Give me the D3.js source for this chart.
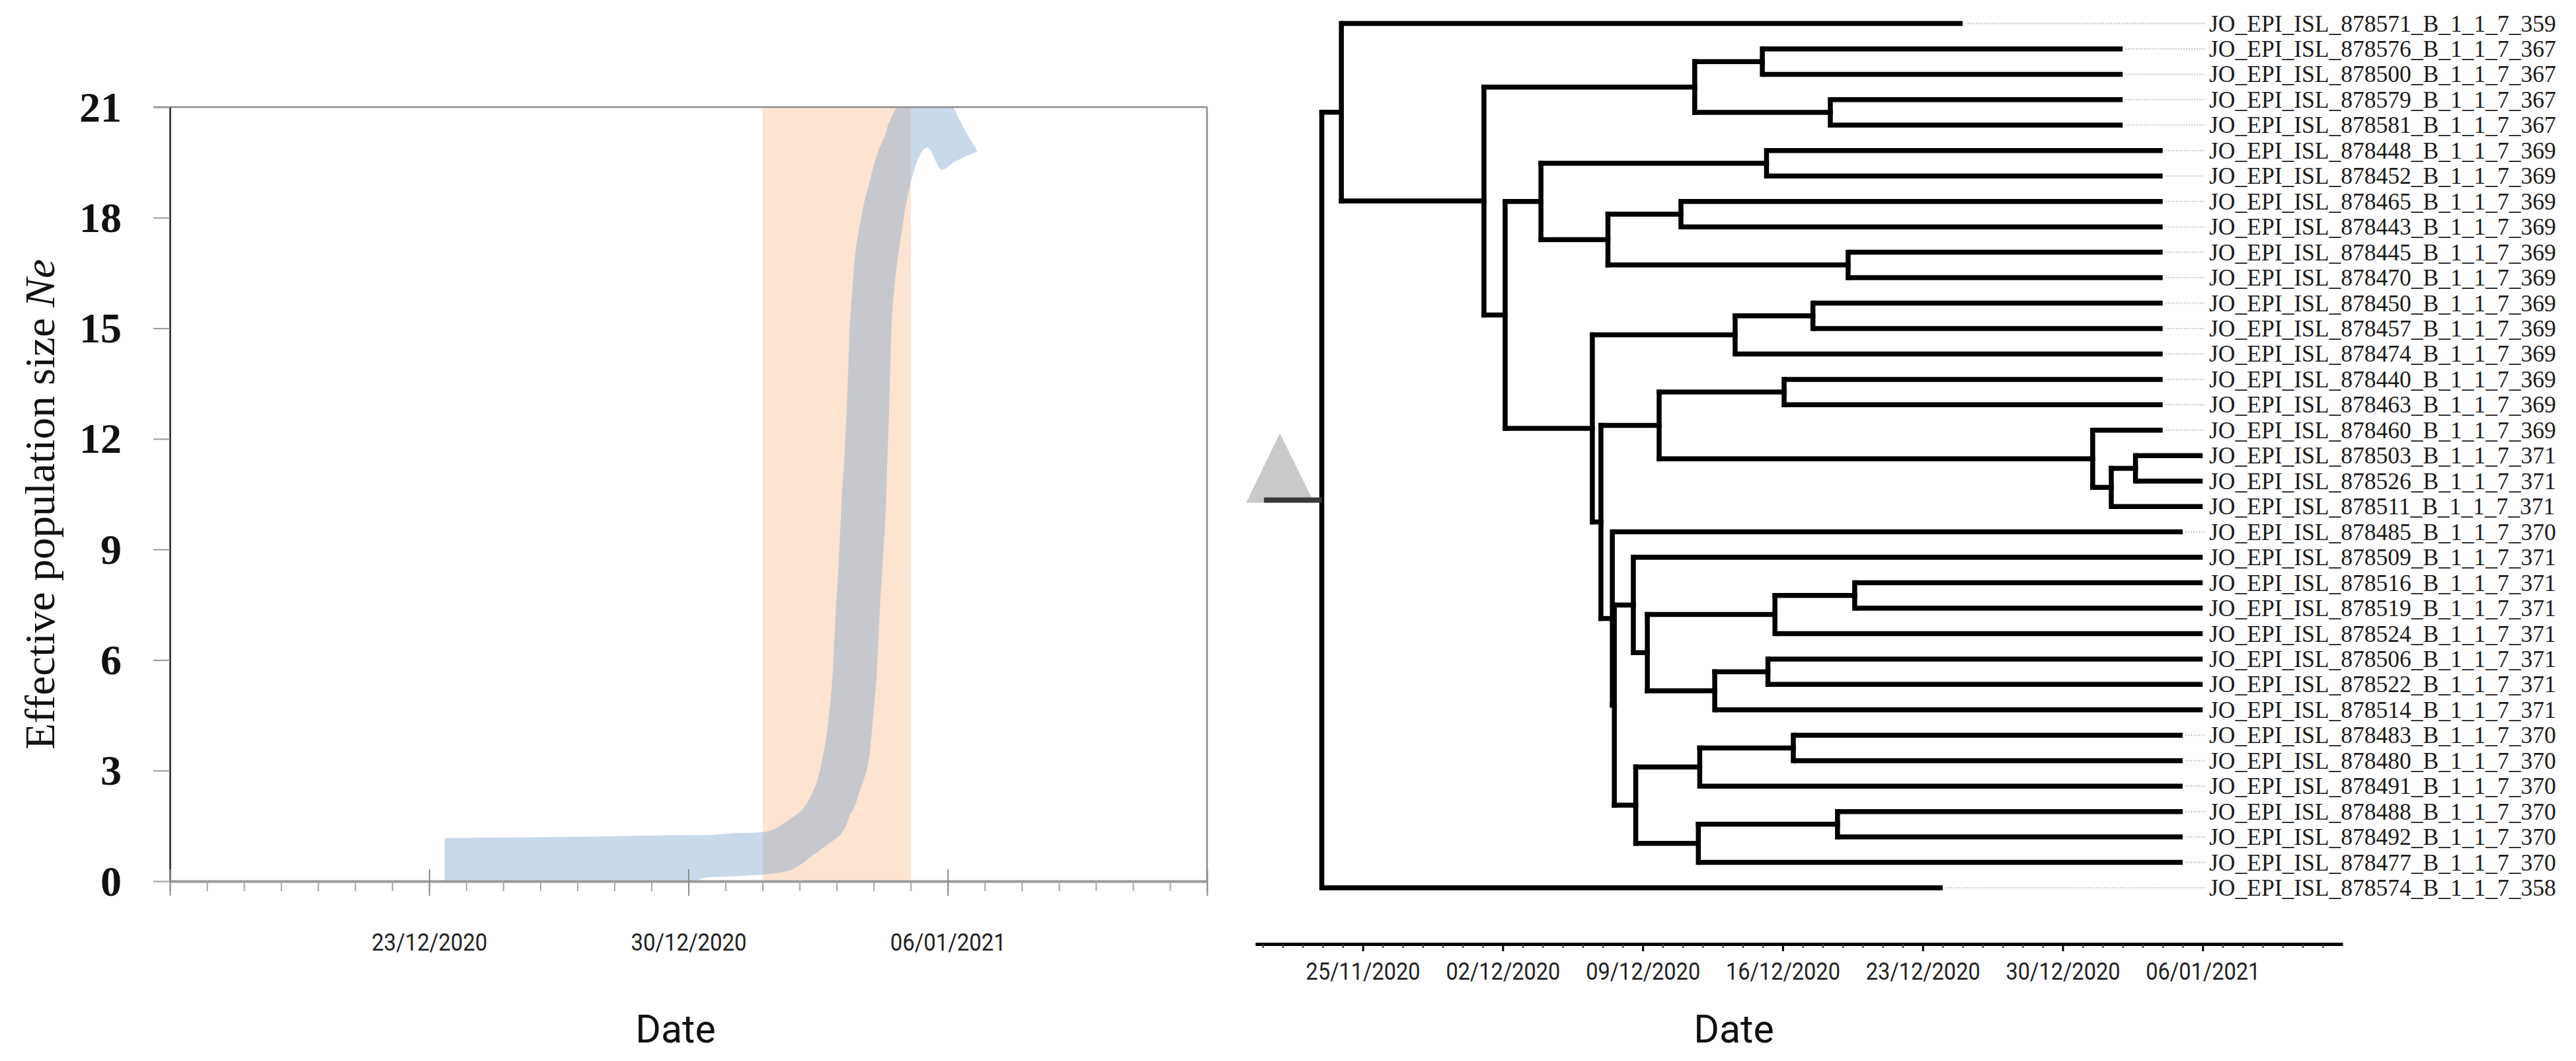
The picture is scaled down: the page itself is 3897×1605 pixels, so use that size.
<!DOCTYPE html>
<html>
<head>
<meta charset="utf-8">
<script src="https://cdn.jsdelivr.net/npm/d3@7"></script>
<style>
  html, body { margin: 0; padding: 0; background: #fff; }
  #chart { width: 3897px; height: 1605px; }
  .serif { font-family: "Liberation Serif", "DejaVu Serif", serif; }
  .sans { font-family: Roboto, "Open Sans", sans-serif; }
</style>
</head>
<body>
<div id="chart"></div>
<script>

/* ---------- LEFT PANEL DATA: skyline band ---------- */
const bandDates = ["2020-12-23T10:05","2020-12-26T19:12","2020-12-30T05:17","2020-12-30T09:36",
    "2020-12-31T04:48","2021-01-01T00:00","2021-01-01T09:36","2021-01-01T18:14","2021-01-02T02:24",
    "2021-01-02T08:24","2021-01-02T12:00","2021-01-02T15:36","2021-01-02T18:29","2021-01-02T21:36",
    "2021-01-02T23:17","2021-01-03T01:26","2021-01-03T03:07","2021-01-03T05:17","2021-01-03T06:58",
    "2021-01-03T08:10","2021-01-03T10:05","2021-01-03T11:46","2021-01-03T14:38","2021-01-03T17:46",
    "2021-01-03T21:36","2021-01-03T23:17","2021-01-04T02:10","2021-01-04T03:50","2021-01-04T06:00",
    "2021-01-04T07:55","2021-01-04T09:07","2021-01-04T10:19","2021-01-04T11:17","2021-01-04T13:41",
    "2021-01-04T15:36","2021-01-04T18:29","2021-01-04T21:07","2021-01-05T00:58","2021-01-05T10:48",
    "2021-01-05T20:10","2021-01-06T03:50","2021-01-06T19:12"];
const bandUpper = [1.17,1.2,1.25,1.25,1.3,1.33,1.45,1.7,1.98,2.4,2.8,3.5,4.3,5.75,7.2,8.7,10.2,11.7,
    13.2,14.7,16.0,16.9,17.7,18.4,19.0,19.3,19.7,19.9,20.1,20.3,20.5,20.6,20.7,20.9,21.0,21.1,21.3,
    21.5,22.0,21.8,21.0,19.8];
const bandLower = [0,0,0.02,0.09,0.13,0.18,0.22,0.3,0.5,0.7,0.8,0.92,1.0,1.1,1.15,1.22,1.3,1.45,
    1.6,1.75,1.9,2.04,2.4,2.78,3.52,4.27,5.75,7.24,8.73,10.2,11.7,13.2,14.7,16.2,16.9,17.7,18.4,
    19.1,19.9,19.3,19.5,19.8];
const highlightPeriod = ["2021-01-01", "2021-01-05"];
const neTicks = [0, 3, 6, 9, 12, 15, 18, 21];
const leftDomain = ["2020-12-16", "2021-01-13"];
const leftMajor = ["2020-12-16", "2020-12-23", "2020-12-30", "2021-01-06", "2021-01-13"];
const leftLabelled = ["2020-12-23", "2020-12-30", "2021-01-06"];

/* ---------- RIGHT PANEL DATA: time tree ---------- */
const tipLabels = ["JO_EPI_ISL_878571_B_1_1_7_359","JO_EPI_ISL_878576_B_1_1_7_367","JO_EPI_ISL_878500_B_1_1_7_367",
    "JO_EPI_ISL_878579_B_1_1_7_367","JO_EPI_ISL_878581_B_1_1_7_367","JO_EPI_ISL_878448_B_1_1_7_369",
    "JO_EPI_ISL_878452_B_1_1_7_369","JO_EPI_ISL_878465_B_1_1_7_369","JO_EPI_ISL_878443_B_1_1_7_369",
    "JO_EPI_ISL_878445_B_1_1_7_369","JO_EPI_ISL_878470_B_1_1_7_369","JO_EPI_ISL_878450_B_1_1_7_369",
    "JO_EPI_ISL_878457_B_1_1_7_369","JO_EPI_ISL_878474_B_1_1_7_369","JO_EPI_ISL_878440_B_1_1_7_369",
    "JO_EPI_ISL_878463_B_1_1_7_369","JO_EPI_ISL_878460_B_1_1_7_369","JO_EPI_ISL_878503_B_1_1_7_371",
    "JO_EPI_ISL_878526_B_1_1_7_371","JO_EPI_ISL_878511_B_1_1_7_371","JO_EPI_ISL_878485_B_1_1_7_370",
    "JO_EPI_ISL_878509_B_1_1_7_371","JO_EPI_ISL_878516_B_1_1_7_371","JO_EPI_ISL_878519_B_1_1_7_371",
    "JO_EPI_ISL_878524_B_1_1_7_371","JO_EPI_ISL_878506_B_1_1_7_371","JO_EPI_ISL_878522_B_1_1_7_371",
    "JO_EPI_ISL_878514_B_1_1_7_371","JO_EPI_ISL_878483_B_1_1_7_370","JO_EPI_ISL_878480_B_1_1_7_370",
    "JO_EPI_ISL_878491_B_1_1_7_370","JO_EPI_ISL_878488_B_1_1_7_370","JO_EPI_ISL_878492_B_1_1_7_370",
    "JO_EPI_ISL_878477_B_1_1_7_370","JO_EPI_ISL_878574_B_1_1_7_358"];
const tipParents = ["A","E","E","F","F","I","I","K","K","L","L","O","O","M","R","R","S","U","U","T",
    "Q","V","Y1","Y1","Y","Z1","Z1","Z","W1a","W1a","W1","W2a","W2a","W2","root"];

// internal nodes; day numbers use the same scale as the tip suffix (371 = 06/01/2021)
const nodeIds     = ["root","A","B","C","E","F","D","G","I","J","K","L","H","M","O","N","P",
    "R","S","T","U","Q","Q2","V","X","Y","Y1","Z","Z1","W","W1","W1a","W2","W2a"];
const nodeParents = ["","root","A","B","C","C","B","D","G","G","J","J","D","H","M","H","N",
    "P","P","S","T","N","Q","Q2","V","X","Y","X","Z","Q2","W","W1","W","W2"];
const nodeDays    = [326.95,327.93,335.06,345.6,348.98,352.38,336.12,337.91,349.19,341.26,344.91,
    353.27,340.48,347.62,351.51,340.91,343.82,350.07,365.5,366.43,367.64,341.48,341.58,342.53,
    343.23,349.61,353.6,346.6,349.26,342.65,345.85,350.53,345.78,352.74];
const rootStemDay = 324.06;
const treeDomain = ["2020-11-19T15:00", "2021-01-13T00:00"];
const treeMajor = ["2020-11-25","2020-12-02","2020-12-09","2020-12-16","2020-12-23","2020-12-30","2021-01-06"];

/* ---------- SVG ---------- */
const width = 3897, height = 1605;
const svg = d3.select("#chart").append("svg")
    .attr("width", width).attr("height", height);

const parseDay = d3.utcParse("%Y-%m-%d");
const parseTime = d3.utcParse("%Y-%m-%dT%H:%M");
const fmt = d3.utcFormat("%d/%m/%Y");

/* ====================== LEFT PANEL ====================== */
const left = {x0: 257, x1: 1826, yTop: 162, yBottom: 1333};

const xScale = d3.scaleUtc()
    .domain(leftDomain.map(parseDay))
    .range([left.x0, left.x1]);

const yScale = d3.scaleLinear()
    .domain([0, 21])
    .range([left.yBottom, left.yTop]);

svg.append("defs").append("clipPath").attr("id", "plotClip")
    .append("rect")
    .attr("x", left.x0).attr("y", left.yTop)
    .attr("width", left.x1 - left.x0).attr("height", left.yBottom - left.yTop);

// highlighted period
svg.append("rect")
    .attr("x", xScale(parseDay(highlightPeriod[0])))
    .attr("y", yScale(21))
    .attr("width", xScale(parseDay(highlightPeriod[1])) - xScale(parseDay(highlightPeriod[0])))
    .attr("height", yScale(0) - yScale(21))
    .attr("fill", "#fce4d2");

// Ne band
const bandData = bandDates.map((d, i) => ({date: parseTime(d), lo: bandLower[i], hi: bandUpper[i]}));
const area = d3.area()
    .x(d => xScale(d.date))
    .y0(d => yScale(d.lo))
    .y1(d => yScale(d.hi))
    .curve(d3.curveMonotoneX);

svg.append("path")
    .datum(bandData)
    .attr("clip-path", "url(#plotClip)")
    .attr("d", area)
    .attr("fill", "rgb(113,155,200)")
    .attr("fill-opacity", 0.38);

// frame
svg.append("line")
    .attr("x1", 232).attr("x2", left.x1)
    .attr("y1", left.yTop).attr("y2", left.yTop)
    .attr("stroke", "#8a8a8a").attr("stroke-width", 2.5);
svg.append("line")
    .attr("x1", left.x1).attr("x2", left.x1)
    .attr("y1", left.yTop).attr("y2", left.yBottom)
    .attr("stroke", "#8a8a8a").attr("stroke-width", 2.5);

// y axis
const yAxis = svg.append("g")
    .attr("transform", `translate(${left.x0},0)`)
    .call(d3.axisLeft(yScale).tickValues(neTicks).tickSizeInner(25).tickSizeOuter(0).tickPadding(48));
yAxis.select(".domain").attr("stroke", "#222").attr("stroke-width", 2.5);
yAxis.selectAll(".tick line").attr("stroke", "#999").attr("stroke-width", 2);
yAxis.selectAll(".tick text")
    .attr("class", "serif")
    .attr("font-size", 64)
    .attr("font-weight", "bold")
    .attr("fill", "#111")
    .attr("dy", "0.33em");

// x axis: daily minor ticks
const leftDays = d3.utcDay.range(parseDay(leftDomain[0]), d3.utcDay.offset(parseDay(leftDomain[1]), 1));
const xMinor = svg.append("g")
    .attr("transform", `translate(0,${left.yBottom})`)
    .call(d3.axisBottom(xScale).tickValues(leftDays).tickSizeInner(15).tickSizeOuter(0).tickFormat(""));
xMinor.select(".domain").attr("stroke", "#9a9a9a").attr("stroke-width", 4);
xMinor.selectAll(".tick line").attr("stroke", "#a5a5a5").attr("stroke-width", 2);

// x axis: weekly major ticks and labels
const xMajor = svg.append("g")
    .attr("transform", `translate(0,${left.yBottom})`)
    .call(d3.axisBottom(xScale)
        .tickValues(leftMajor.map(parseDay))
        .tickSizeInner(22).tickSizeOuter(0)
        .tickFormat(d => leftLabelled.includes(d3.utcFormat("%Y-%m-%d")(d)) ? fmt(d) : ""));
xMajor.select(".domain").remove();
xMajor.selectAll(".tick line").attr("y1", -18).attr("stroke", "#8c8c8c").attr("stroke-width", 2);
xMajor.selectAll(".tick text")
    .attr("class", "sans")
    .attr("font-size", 37)
    .attr("fill", "#222")
    .attr("dy", null)
    .attr("y", 105)
    .filter(function() { return this.textContent !== ""; })
    .attr("textLength", 175)
    .attr("lengthAdjust", "spacingAndGlyphs");

// axis titles
const yTitle = svg.append("text")
    .attr("class", "serif")
    .attr("transform", "rotate(-90)")
    .attr("x", -763)
    .attr("y", 82)
    .attr("text-anchor", "middle")
    .attr("font-size", 64)
    .attr("fill", "#111")
    .attr("textLength", 742)
    .attr("lengthAdjust", "spacingAndGlyphs")
    .text("Effective population size ");
yTitle.append("tspan").attr("font-style", "italic").text("Ne");

svg.append("text")
    .attr("class", "sans")
    .attr("x", 1022).attr("y", 1577)
    .attr("text-anchor", "middle")
    .attr("font-size", 59)
    .attr("fill", "#111")
    .text("Date");

/* ====================== RIGHT PANEL: TREE ====================== */
const anchorDate = parseDay("2021-01-06"); // day 371
const dayToDate = n => new Date(anchorDate.getTime() + (n - 371) * 864e5);

const treeX = d3.scaleUtc()
    .domain(treeDomain.map(parseTime))
    .range([1899, 3544]);

const tipY = d3.scaleLinear()
    .domain([0, tipLabels.length - 1])
    .range([35.5, 1343]);

const rows = nodeIds.map((id, i) => ({id: id, parent: nodeParents[i] || null, day: nodeDays[i], tip: -1}))
    .concat(tipLabels.map((lab, i) => ({
        id: lab, parent: tipParents[i], day: +lab.split("_").pop(), tip: i
    })));

const tree = d3.stratify().id(d => d.id).parentId(d => d.parent)(rows);

tree.eachAfter(n => {
    n.x = treeX(dayToDate(n.data.day));
    if (!n.children) {
        n.y = tipY(n.data.tip);
    } else {
        n.yMin = d3.min(n.children, c => c.y);
        n.yMax = d3.max(n.children, c => c.y);
        n.y = (n.yMin + n.yMax) / 2;
    }
});

const branchW = 7.5;
const branches = svg.append("g")
    .attr("fill", "none")
    .attr("stroke", "#000")
    .attr("stroke-width", branchW)
    .attr("stroke-linecap", "square");

// root stem + collapsed triangle
const stemX = treeX(dayToDate(rootStemDay));
svg.insert("path", "g")
    .attr("d", d3.line()([[stemX - 27, tree.y + 4], [stemX + 24, tree.y - 101], [stemX + 76, tree.y + 4]]))
    .attr("fill", "#c9c9c9");
svg.append("line")
    .attr("x1", stemX).attr("x2", tree.x)
    .attr("y1", tree.y).attr("y2", tree.y)
    .attr("stroke", "#383838").attr("stroke-width", 8);

tree.descendants().forEach(n => {
    if (n.parent) {
        branches.append("path")
            .attr("d", d3.line()([[n.parent.x, n.y], [n.x, n.y]]))
            .attr("stroke-linecap", n.children ? "square" : "butt");
    }
    if (n.children) {
        branches.append("path")
            .attr("d", d3.line()([[n.x, n.yMin], [n.x, n.yMax]]));
    }
});

// leader lines + tip labels
const labelX = 3342;
const leaves = tree.leaves();
svg.append("g").selectAll("line")
    .data(leaves.filter(d => d.x < labelX - 14))
    .join("line")
    .attr("x1", d => d.x + 4).attr("x2", labelX - 6)
    .attr("y1", d => d.y).attr("y2", d => d.y)
    .attr("stroke", "#c4c4c4").attr("stroke-width", 2)
    .attr("stroke-dasharray", "2,2");

svg.append("g").selectAll("text")
    .data(leaves)
    .join("text")
    .attr("class", "serif")
    .attr("x", labelX)
    .attr("y", d => d.y)
    .attr("dy", "0.34em")
    .attr("font-size", 35.5)
    .attr("fill", "#1a1a1a")
    .text(d => d.id);

// tree time axis
const treeAxisY = 1428;
const treeDays = d3.utcDay.range(d3.utcDay.ceil(parseTime(treeDomain[0])), parseTime(treeDomain[1]));
const tMinor = svg.append("g")
    .attr("transform", `translate(0,${treeAxisY})`)
    .call(d3.axisBottom(treeX).tickValues(treeDays).tickSizeInner(6).tickSizeOuter(0).tickFormat(""));
tMinor.select(".domain").attr("stroke", "#000").attr("stroke-width", 5);
tMinor.selectAll(".tick line").attr("stroke", "#333").attr("stroke-width", 2);

const tMajor = svg.append("g")
    .attr("transform", `translate(0,${treeAxisY})`)
    .call(d3.axisBottom(treeX).tickValues(treeMajor.map(parseDay)).tickSizeInner(11).tickSizeOuter(0).tickFormat(fmt));
tMajor.select(".domain").remove();
tMajor.selectAll(".tick line").attr("stroke", "#000").attr("stroke-width", 3);
tMajor.selectAll(".tick text")
    .attr("class", "sans")
    .attr("font-size", 37)
    .attr("fill", "#222")
    .attr("dy", null)
    .attr("y", 54)
    .attr("textLength", 173)
    .attr("lengthAdjust", "spacingAndGlyphs");

svg.append("text")
    .attr("class", "sans")
    .attr("x", 2623).attr("y", 1577)
    .attr("text-anchor", "middle")
    .attr("font-size", 59)
    .attr("fill", "#111")
    .text("Date");

</script>
</body>
</html>
